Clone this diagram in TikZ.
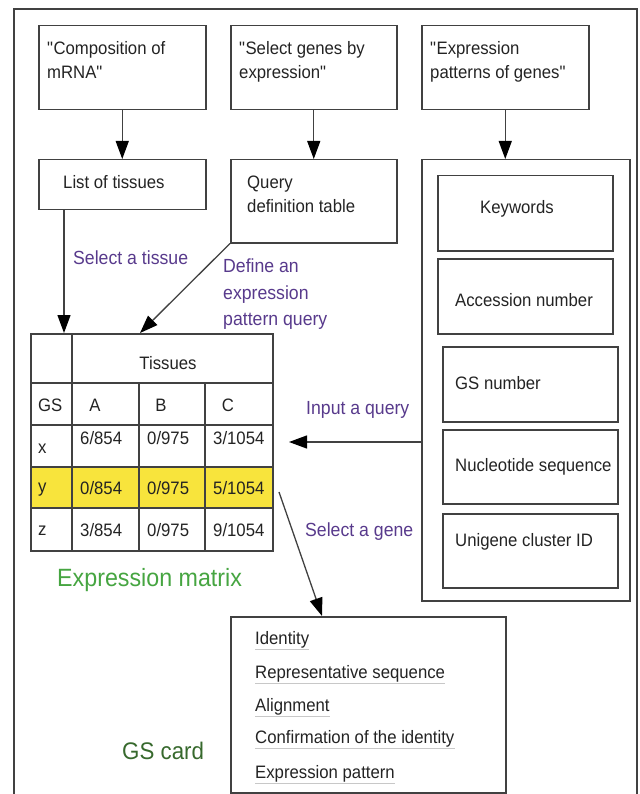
\documentclass[tikz,border=0pt]{standalone}
\usepackage{fontspec}
\setmainfont{Liberation Sans}[FakeStretch=0.93]
\usetikzlibrary{arrows.meta}
\definecolor{ln}{RGB}{65,65,65}
\definecolor{txt}{RGB}{35,35,35}
\definecolor{purp}{RGB}{88,58,140}
\definecolor{grn}{RGB}{70,165,65}
\definecolor{dgrn}{RGB}{55,105,45}
\definecolor{yel}{RGB}{248,228,60}
\definecolor{ulc}{RGB}{200,200,200}
\newcommand{\dq}{\textquotedbl}
\begin{document}
\begin{tikzpicture}[x=1pt,y=-1pt,
  box/.style={draw=ln,line width=1.5pt,inner sep=0pt,anchor=north west},
  lbl/.style={inner sep=0pt,text=txt,font=\fontsize{18}{24}\selectfont},
  plbl/.style={inner sep=0pt,text=purp,font=\fontsize{19}{26.5}\selectfont},
  glbl/.style={inner sep=0pt,text=grn,font=\fontsize{25}{30}\selectfont},
  arr/.style={draw=ln,line width=1.3pt,-{Triangle[length=18pt,width=13pt,color=black]}},
  ul/.style={draw=ulc,line width=1pt}]
\useasboundingbox (0,0) rectangle (639,794);
% outer frame (open at the bottom)
\draw[draw=ln,line width=1.8pt] (14,794) -- (14,9) -- (637,9) -- (637,794);
% top boxes
\node[box,minimum width=167pt,minimum height=84pt] (b1) at (38,25) {};
\node[box,minimum width=166pt,minimum height=84pt] (b2) at (230,25) {};
\node[box,minimum width=167pt,minimum height=84pt] (b3) at (421,25) {};
\node[lbl,anchor=north west,align=left] (t1) at (47,41) {\dq Composition of\\mRNA\dq};
\node[lbl,anchor=north west,align=left] (t2) at (239,41) {\dq Select genes by\\expression\dq};
\node[lbl,anchor=north west,align=left] (t3) at (430,41) {\dq Expression\\patterns of genes\dq};
% second row
\node[box,minimum width=167pt,minimum height=50pt] (lt) at (38,159) {};
\node[lbl,anchor=base west] (ltt) at (63,189) {List of tissues};
\node[box,minimum width=166pt,minimum height=83pt] (qd) at (230,159) {};
\node[lbl,anchor=north west,align=left] (qdt) at (247,176) {Query\\definition table};
\node[box,minimum width=208pt,minimum height=441pt] (big) at (421,159) {};
\node[box,minimum width=175pt,minimum height=75pt] (kw) at (437,175) {};
\node[box,minimum width=175pt,minimum height=75pt] (ac) at (437,258) {};
\node[box,minimum width=175pt,minimum height=75pt] (gsn) at (442,346) {};
\node[box,minimum width=175pt,minimum height=74pt] (nuc) at (442,429) {};
\node[box,minimum width=175pt,minimum height=74pt] (uni) at (442,513) {};
\node[lbl,anchor=base west] (kwt) at (480,214) {Keywords};
\node[lbl,anchor=base west] (act) at (455,306) {Accession number};
\node[lbl,anchor=base west] (gsnt) at (455,389) {GS number};
\node[lbl,anchor=base west] (nuct) at (455,471) {Nucleotide sequence};
\node[lbl,anchor=base west] (unit) at (455,546) {Unigene cluster ID};
% expression matrix
\fill[yel] (30,467) rectangle (272,508);
\node[box,minimum width=242pt,minimum height=217pt] (mat) at (30,333) {};
\draw[draw=ln,line width=1.5pt] (30,383) -- (272,383) (30,425) -- (272,425)
  (30,467) -- (272,467) (30,508) -- (272,508)
  (72,333) -- (72,550) (139,383) -- (139,550) (205,383) -- (205,550);
\node[lbl,anchor=base] (tis) at (168,369) {Tissues};
\node[lbl,anchor=base west] (gsh) at (38,411) {GS};
\node[lbl,anchor=base] (ca) at (95,411) {A};
\node[lbl,anchor=base] (cb) at (161,411) {B};
\node[lbl,anchor=base] (cc) at (228,411) {C};
\node[lbl,anchor=base west] (rx) at (38,453) {x};
\node[lbl,anchor=base west] (x1) at (80,444) {6/854};
\node[lbl,anchor=base west] (x2) at (147,444) {0/975};
\node[lbl,anchor=base west] (x3) at (213,444) {3/1054};
\node[lbl,anchor=base west] (ry) at (38,492) {y};
\node[lbl,anchor=base west] (y1) at (80,494) {0/854};
\node[lbl,anchor=base west] (y2) at (147,494) {0/975};
\node[lbl,anchor=base west] (y3) at (213,494) {5/1054};
\node[lbl,anchor=base west] (rz) at (38,535) {z};
\node[lbl,anchor=base west] (z1) at (80,536) {3/854};
\node[lbl,anchor=base west] (z2) at (147,536) {0/975};
\node[lbl,anchor=base west] (z3) at (213,536) {9/1054};
\node[glbl,anchor=base west] (em) at (57,586) {Expression matrix};
% GS card
\node[box,minimum width=275pt,minimum height=176pt] (gsc) at (230,616) {};
\node[lbl,anchor=base west] (g1) at (255,644) {Identity};
\node[lbl,anchor=base west] (g2) at (255,678) {Representative sequence};
\node[lbl,anchor=base west] (g3) at (255,711) {Alignment};
\node[lbl,anchor=base west] (g4) at (255,743) {Confirmation of the identity};
\node[lbl,anchor=base west] (g5) at (255,778) {Expression pattern};
\foreach \n in {g1,g2,g3,g4,g5}
  \draw[ul] ([yshift=-5pt]\n.base west) -- ([yshift=-5pt]\n.base east);
\node[glbl,text=dgrn,font=\fontsize{24}{30}\selectfont,anchor=base west] (gsl) at (122,759) {GS card};
% purple labels
\node[plbl,anchor=base west] (l1) at (73,264) {Select a tissue};
\node[plbl,anchor=north west,align=left] (l2) at (223,259) {Define an\\expression\\pattern query};
\node[plbl,anchor=base west] (l3) at (306,414) {Input a query};
\node[plbl,anchor=base west] (l4) at (305,536) {Select a gene};
% connectors
\draw[arr] (b1.south) -- (lt.north);
\draw[arr] (b2.south) -- (qd.north);
\draw[arr] (b3.south) -- (b3.south |- big.north);
\draw[arr] ([xshift=26pt]lt.south west) -- ([xshift=34pt]mat.north west);
\draw[arr] (qd.south west) -- ([xshift=110pt]mat.north west);
\coordinate (inq) at (289,442);
\draw[arr] (big.west |- inq) -- (inq);
\coordinate (sg) at (279,492);
\draw[arr] (sg) -- ([xshift=92pt]gsc.north west);
\end{tikzpicture}
\end{document}
